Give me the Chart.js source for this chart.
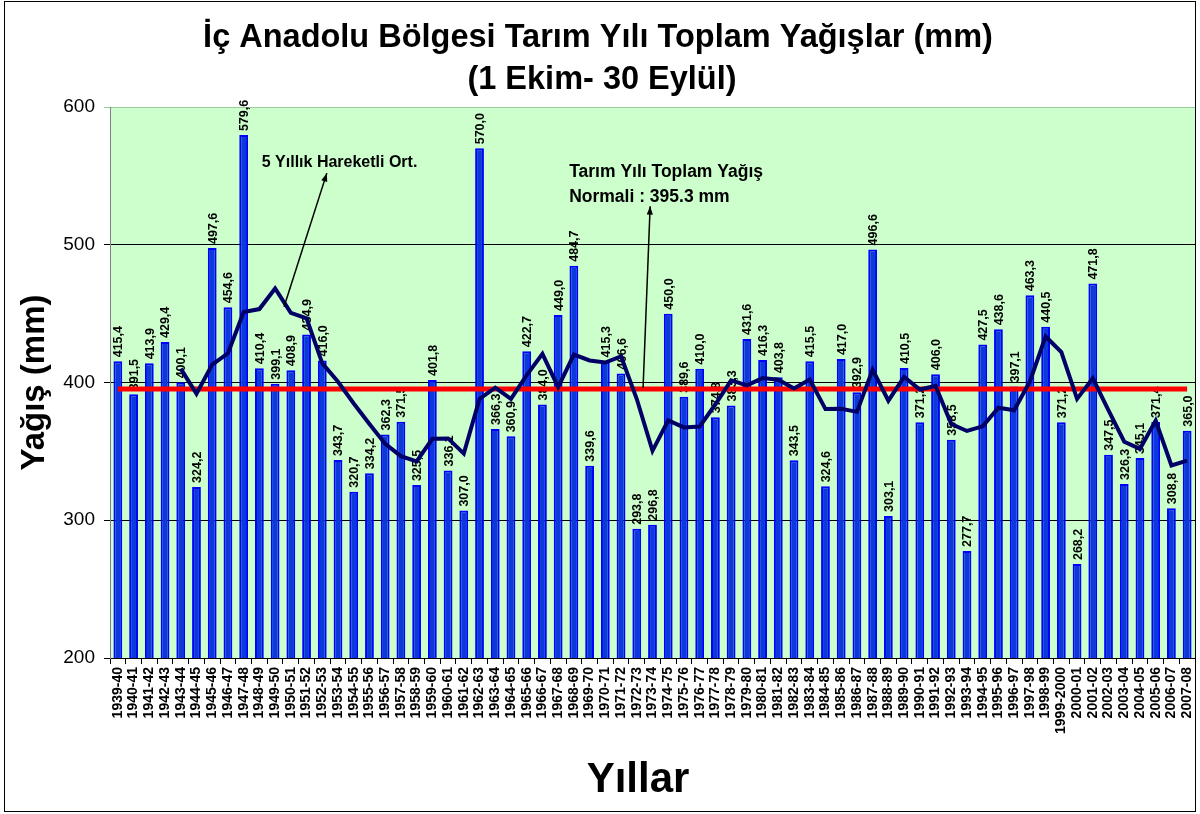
<!DOCTYPE html>
<html>
<head>
<meta charset="utf-8">
<script src="https://cdn.jsdelivr.net/npm/chart.js@4.4.0/dist/chart.umd.min.js"></script>
<style>
  html, body { margin: 0; padding: 0; background: #fff; }
  #wrap { width: 1200px; height: 814px; position: relative; }
</style>
</head>
<body>
<div id="wrap"><canvas id="rainChart" width="1200" height="814"></canvas></div>
<script>
// Agricultural years (1 Oct - 30 Sep)
const years = [
  '1939-40','1940-41','1941-42','1942-43','1943-44','1944-45','1945-46','1946-47','1947-48','1948-49',
  '1949-50','1950-51','1951-52','1952-53','1953-54','1954-55','1955-56','1956-57','1957-58','1958-59',
  '1959-60','1960-61','1961-62','1962-63','1963-64','1964-65','1965-66','1966-67','1967-68','1968-69',
  '1969-70','1970-71','1971-72','1972-73','1973-74','1974-75','1975-76','1976-77','1977-78','1978-79',
  '1979-80','1980-81','1981-82','1982-83','1983-84','1984-85','1985-86','1986-87','1987-88','1988-89',
  '1989-90','1990-91','1991-92','1992-93','1993-94','1994-95','1995-96','1996-97','1997-98','1998-99',
  '1999-2000','2000-01','2001-02','2002-03','2003-04','2004-05','2005-06','2006-07','2007-08'
];

// total rainfall (mm)
const rainfall = [
  415.4, 391.5, 413.9, 429.4, 400.1, 324.2, 497.6, 454.6, 579.6, 410.4,
  399.1, 408.9, 434.9, 416.0, 343.7, 320.7, 334.2, 362.3, 371.5, 325.5,
  401.8, 336.1, 307.0, 570.0, 366.3, 360.9, 422.7, 384.0, 449.0, 484.7,
  339.6, 415.3, 406.6, 293.8, 296.8, 450.0, 389.6, 410.0, 374.8, 383.3,
  431.6, 416.3, 403.8, 343.5, 415.5, 324.6, 417.0, 392.9, 496.6, 303.1,
  410.5, 371.2, 406.0, 358.5, 277.7, 427.5, 438.6, 397.1, 463.3, 440.5,
  371.2, 268.2, 471.8, 347.5, 326.3, 345.1, 371.4, 308.8, 365.0
];

// 5 year moving average line (starts at 1943-44)
const movingAvg = [
  null, null, null, null, 410.1, 391.8, 413.0, 421.2, 451.2, 453.3,
  468.3, 450.5, 446.6, 413.9, 400.5, 384.8, 369.9, 355.4, 346.5, 342.8,
  359.1, 359.4, 348.4, 388.1, 396.2, 388.1, 405.4, 420.8, 396.6, 420.3,
  416.0, 414.5, 419.0, 388.0, 350.4, 372.5, 367.4, 368.0, 384.2, 401.5,
  397.9, 403.2, 402.0, 395.7, 402.1, 380.7, 380.9, 378.7, 409.3, 386.8,
  404.0, 394.9, 397.5, 369.9, 364.8, 368.2, 381.7, 379.9, 400.8, 433.4,
  422.1, 388.1, 403.0, 379.8, 357.0, 351.8, 372.4, 339.8, 343.3
];

const normalValue = 395.3;
const normalLine = years.map(() => normalValue);

const yTicks = [200, 300, 400, 500, 600];

const FONT = "'Liberation Sans', Arial, sans-serif";

// background of plot area + outer frame + titles
const backgroundPlugin = {
  id: 'background',
  beforeDraw(chart) {
    const { ctx, chartArea: a } = chart;
    ctx.save();
    ctx.fillStyle = '#ffffff';
    ctx.fillRect(0, 0, chart.width, chart.height);
    ctx.fillStyle = '#ccffcc';
    ctx.fillRect(a.left, a.top, a.right - a.left, a.bottom - a.top);
    ctx.restore();
  },
  afterDraw(chart) {
    const { ctx } = chart;
    ctx.save();
    ctx.strokeStyle = '#000';
    ctx.lineWidth = 1;
    ctx.strokeRect(4.5, 1.5, 1191, 810);
    ctx.fillStyle = '#000';
    ctx.textAlign = 'center';
    ctx.textBaseline = 'middle';
    ctx.font = 'bold 32.5px ' + FONT;
    ctx.fillText('İç Anadolu Bölgesi Tarım Yılı Toplam Yağışlar (mm)', 598, 38);
    ctx.fillText('(1 Ekim- 30 Eylül)', 602, 80);
    // x axis title sits a bit left of the plot centre in the original
    ctx.font = 'bold 42px ' + FONT;
    ctx.fillText('Yıllar', 638, 780);
    ctx.restore();
  }
};

// rotated value labels above each bar
const barLabels = {
  id: 'barLabels',
  afterDatasetDraw(chart, args) {
    if (args.index !== 0) return;
    const { ctx } = chart;
    ctx.save();
    ctx.fillStyle = '#000';
    ctx.font = 'bold 12.5px ' + FONT;
    ctx.textAlign = 'left';
    ctx.textBaseline = 'middle';
    args.meta.data.forEach((bar, i) => {
      const txt = rainfall[i].toFixed(1).replace('.', ',');
      ctx.save();
      ctx.translate(bar.x + 1, bar.y - 4);
      ctx.rotate(-Math.PI / 2);
      ctx.fillText(txt, 0, 0);
      ctx.restore();
    });
    ctx.restore();
  }
};

// arrows and notes
function arrow(ctx, x1, y1, x2, y2) {
  const ang = Math.atan2(y2 - y1, x2 - x1);
  ctx.beginPath();
  ctx.moveTo(x1, y1);
  ctx.lineTo(x2, y2);
  ctx.stroke();
  ctx.beginPath();
  ctx.moveTo(x2, y2);
  ctx.lineTo(x2 - 9 * Math.cos(ang - 0.35), y2 - 9 * Math.sin(ang - 0.35));
  ctx.lineTo(x2 - 9 * Math.cos(ang + 0.35), y2 - 9 * Math.sin(ang + 0.35));
  ctx.closePath();
  ctx.fill();
}

const notesPlugin = {
  id: 'notes',
  afterDatasetsDraw(chart) {
    const { ctx, scales: { x, y } } = chart;
    ctx.save();
    ctx.strokeStyle = '#000';
    ctx.fillStyle = '#000';
    ctx.lineWidth = 1.5;
    arrow(ctx, x.getPixelForValue(10.57), y.getPixelForValue(455), x.getPixelForValue(13.29), y.getPixelForValue(552));
    arrow(ctx, x.getPixelForValue(33.4), y.getPixelForValue(396), x.getPixelForValue(33.85), y.getPixelForValue(528));
    ctx.textAlign = 'left';
    ctx.textBaseline = 'middle';
    ctx.font = 'bold 16px ' + FONT;
    ctx.fillText('5 Yıllık Hareketli Ort.', x.getPixelForValue(9.15), y.getPixelForValue(560));
    ctx.font = 'bold 17.5px ' + FONT;
    ctx.fillText('Tarım Yılı Toplam Yağış', x.getPixelForValue(28.7), y.getPixelForValue(553));
    ctx.fillText('Normali : 395.3 mm', x.getPixelForValue(28.7), y.getPixelForValue(534.5));
    ctx.restore();
  }
};

new Chart(document.getElementById('rainChart'), {
  type: 'bar',
  data: {
    labels: years,
    datasets: [
      {
        type: 'bar',
        label: 'Toplam Yağış',
        data: rainfall,
        backgroundColor: '#0a3ad8',
        borderColor: '#0000ff',
        borderWidth: 2,
        borderSkipped: 'bottom',
        barPercentage: 0.56,
        categoryPercentage: 1.0,
        order: 2
      },
      {
        type: 'line',
        label: 'Normal',
        data: normalLine,
        borderColor: '#ff0000',
        borderWidth: 5,
        pointRadius: 0,
        fill: false,
        order: 1
      },
      {
        type: 'line',
        label: '5 Yıllık Hareketli Ort.',
        data: movingAvg,
        borderColor: '#000066',
        borderWidth: 4,
        pointRadius: 0,
        tension: 0,
        fill: false,
        order: 0
      }
    ]
  },
  options: {
    responsive: false,
    animation: false,
    layout: { padding: { top: 107, left: 4, right: 5, bottom: 4 } },
    plugins: {
      legend: { display: false },
      tooltip: { enabled: false },
      title: { display: false }
    },
    scales: {
      x: {
        grid: {
          display: true,
          drawOnChartArea: false,
          drawTicks: true,
          tickLength: 6,
          color: '#000'
        },
        border: { color: '#000', width: 1 },
        ticks: {
          autoSkip: false,
          maxRotation: 90,
          minRotation: 90,
          padding: 3,
          color: '#000',
          font: { family: FONT, size: 14, weight: 'bold' }
        },
        title: { display: false },
        afterFit(scale) {
          scale.height = 152;
          scale.paddingLeft = 0;
          scale.paddingRight = 0;
        }
      },
      y: {
        min: 200,
        max: 600,
        afterBuildTicks(scale) { scale.ticks = yTicks.map(v => ({ value: v })); },
        grid: {
          color: ctx => (ctx.tick && ctx.tick.value === 600) ? '#99cc99' : '#000',
          tickLength: 6,
          lineWidth: 1
        },
        border: { color: '#808080', width: 1 },
        ticks: {
          padding: 9,
          color: '#000',
          font: { family: FONT, size: 19 }
        },
        title: {
          display: true,
          text: 'Yağış (mm)',
          color: '#000',
          font: { family: FONT, size: 33, weight: 'bold' },
          padding: { top: 11, bottom: 0 }
        },
        afterFit(scale) { scale.width = 106; }
      }
    }
  },
  plugins: [backgroundPlugin, barLabels, notesPlugin]
});
</script>
</body>
</html>
